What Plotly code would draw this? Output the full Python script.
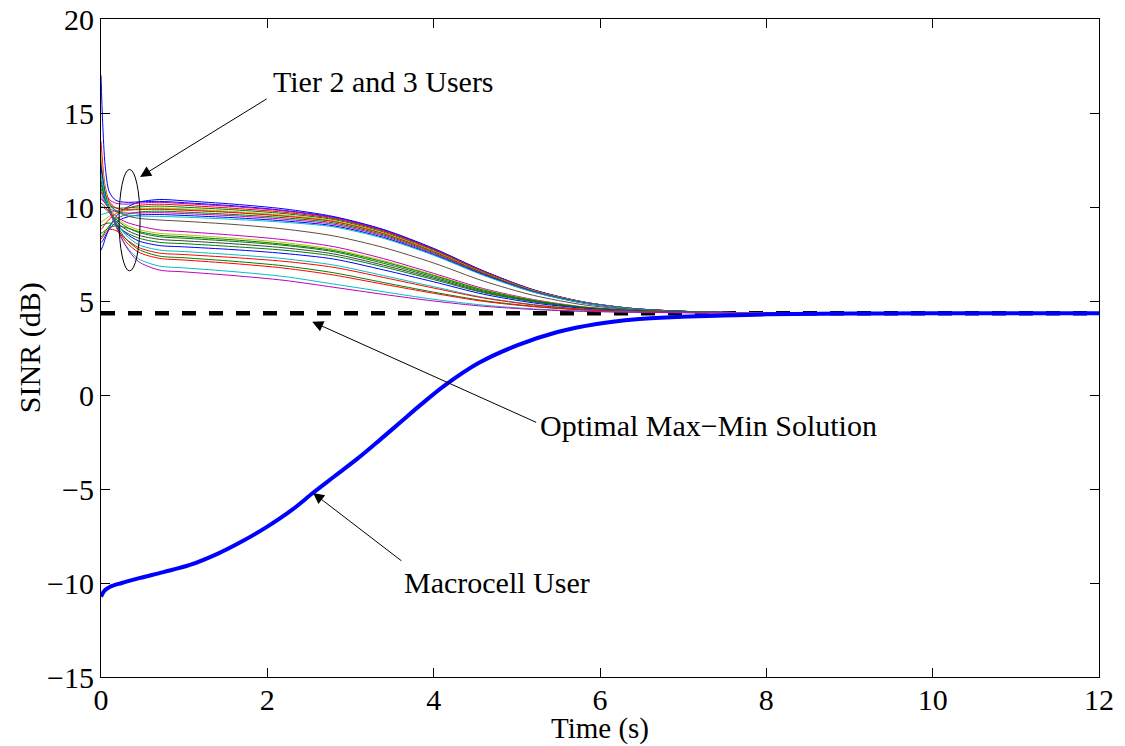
import plotly.graph_objects as go

# Sample times (s) for the tier 2/3 user SINR traces
t_tier = [0, 0.02, 0.05, 0.1, 0.18, 0.3, 0.45, 0.7, 1.0, 1.6, 2.2, 2.8,
          3.4, 4.0, 4.6, 5.2, 5.8, 6.4, 7.2, 8.5, 12]

# SINR (dB) of each tier 2/3 user
tier_01 = [7.7, 7.9, 8.3, 8.9, 9.5, 9.95, 10.25, 10.4, 10.33, 10.15, 9.9, 9.49, 8.80, 7.80, 6.60, 5.60, 4.95, 4.60, 4.42, 4.36, 4.35]
tier_02 = [17.0, 14.5, 12.2, 10.8, 10.35, 10.25, 10.27, 10.3, 10.23, 10.06, 9.82, 9.45, 8.77, 7.77, 6.59, 5.59, 4.95, 4.60, 4.42, 4.36, 4.35]
tier_03 = [12.5, 11.7, 10.9, 10.4, 10.2, 10.15, 10.2, 10.25, 10.18, 10.02, 9.79, 9.42, 8.74, 7.75, 6.57, 5.58, 4.94, 4.60, 4.42, 4.36, 4.35]
tier_04 = [8.8, 8.9, 9.1, 9.35, 9.65, 9.9, 10.08, 10.15, 10.09, 9.93, 9.72, 9.38, 8.71, 7.73, 6.55, 5.57, 4.94, 4.60, 4.42, 4.36, 4.35]
tier_05 = [11.0, 10.7, 10.35, 10.1, 9.95, 9.95, 10.0, 10.05, 9.99, 9.85, 9.65, 9.33, 8.66, 7.69, 6.53, 5.56, 4.93, 4.59, 4.42, 4.36, 4.35]
tier_06 = [9.6, 9.62, 9.66, 9.72, 9.8, 9.86, 9.9, 9.92, 9.87, 9.73, 9.54, 9.25, 8.59, 7.64, 6.49, 5.54, 4.93, 4.59, 4.42, 4.36, 4.35]
tier_07 = [9.2, 9.25, 9.35, 9.5, 9.65, 9.8, 9.9, 9.95, 9.90, 9.76, 9.57, 9.27, 8.61, 7.65, 6.50, 5.55, 4.93, 4.59, 4.42, 4.36, 4.35]
tier_08 = [13.5, 12.3, 11.1, 10.3, 9.95, 9.85, 9.86, 9.88, 9.83, 9.70, 9.51, 9.22, 8.57, 7.62, 6.48, 5.53, 4.92, 4.59, 4.42, 4.36, 4.35]
tier_09 = [8.4, 8.5, 8.7, 9.0, 9.35, 9.6, 9.73, 9.78, 9.73, 9.60, 9.43, 9.15, 8.51, 7.57, 6.45, 5.52, 4.91, 4.59, 4.42, 4.36, 4.35]
tier_10 = [10.5, 10.4, 10.2, 9.95, 9.75, 9.68, 9.68, 9.7, 9.65, 9.53, 9.35, 9.08, 8.45, 7.52, 6.42, 5.50, 4.90, 4.58, 4.42, 4.36, 4.35]
tier_11 = [8.1, 8.2, 8.45, 8.8, 9.2, 9.45, 9.57, 9.6, 9.55, 9.43, 9.26, 9.0, 8.38, 7.47, 6.39, 5.48, 4.89, 4.58, 4.42, 4.36, 4.35]
tier_12 = [11.7, 11.2, 10.6, 10.1, 9.8, 9.6, 9.52, 9.5, 9.46, 9.34, 9.19, 8.94, 8.33, 7.43, 6.36, 5.47, 4.89, 4.58, 4.41, 4.36, 4.35]
tier_13 = [12.0, 11.5, 10.8, 10.2, 9.8, 9.55, 9.4, 9.31, 9.24, 9.07, 8.83, 8.46, 7.84, 7.02, 6.06, 5.30, 4.80, 4.54, 4.41, 4.36, 4.35]
tier_14 = [10.8, 10.6, 10.3, 9.9, 9.5, 9.2, 9.0, 8.78, 8.69, 8.50, 8.26, 7.89, 7.25, 6.47, 5.66, 5.08, 4.69, 4.51, 4.40, 4.36, 4.35]
tier_15 = [12.8, 12.0, 11.0, 10.1, 9.45, 9.05, 8.8, 8.6, 8.52, 8.34, 8.11, 7.75, 7.14, 6.39, 5.61, 5.05, 4.68, 4.50, 4.40, 4.36, 4.35]
tier_16 = [8.6, 8.65, 8.75, 8.9, 9.0, 8.9, 8.7, 8.5, 8.42, 8.25, 8.02, 7.68, 7.08, 6.35, 5.58, 5.03, 4.67, 4.50, 4.40, 4.36, 4.35]
tier_17 = [10.2, 10.15, 10.0, 9.75, 9.35, 8.95, 8.65, 8.42, 8.34, 8.17, 7.96, 7.62, 7.00, 6.28, 5.53, 5.00, 4.66, 4.49, 4.40, 4.36, 4.35]
tier_18 = [11.4, 11.0, 10.4, 9.8, 9.25, 8.8, 8.5, 8.28, 8.20, 8.04, 7.83, 7.5, 6.90, 6.21, 5.48, 4.98, 4.65, 4.49, 4.39, 4.36, 4.35]
tier_19 = [9.0, 9.05, 9.1, 9.15, 9.0, 8.65, 8.35, 8.12, 8.05, 7.89, 7.70, 7.39, 6.81, 6.14, 5.44, 4.96, 4.64, 4.48, 4.39, 4.36, 4.35]
tier_20 = [12.2, 11.5, 10.7, 9.9, 9.15, 8.6, 8.2, 7.95, 7.88, 7.73, 7.53, 7.23, 6.65, 6.02, 5.36, 4.90, 4.61, 4.47, 4.39, 4.36, 4.35]
tier_21 = [10.6, 10.5, 10.3, 9.9, 9.2, 8.5, 8.0, 7.71, 7.63, 7.46, 7.25, 6.91, 6.35, 5.76, 5.19, 4.81, 4.57, 4.45, 4.39, 4.36, 4.35]
tier_22 = [8.3, 8.4, 8.6, 8.8, 8.75, 8.3, 7.85, 7.55, 7.47, 7.31, 7.11, 6.79, 6.25, 5.69, 5.16, 4.79, 4.56, 4.45, 4.38, 4.36, 4.35]
tier_23 = [11.2, 10.9, 10.5, 9.95, 9.1, 8.3, 7.75, 7.39, 7.30, 7.11, 6.87, 6.5, 5.98, 5.47, 5.02, 4.72, 4.53, 4.43, 4.38, 4.36, 4.35]
tier_24 = [10.0, 10.0, 9.9, 9.7, 9.0, 8.15, 7.6, 7.27, 7.18, 6.99, 6.75, 6.38, 5.89, 5.41, 4.98, 4.70, 4.52, 4.43, 4.38, 4.36, 4.35]
tier_25 = [11.8, 11.3, 10.6, 9.9, 8.95, 7.95, 7.25, 6.86, 6.76, 6.56, 6.30, 5.9, 5.49, 5.09, 4.78, 4.58, 4.46, 4.41, 4.37, 4.36, 4.35]
tier_26 = [10.4, 10.35, 10.2, 9.85, 9.0, 7.9, 7.1, 6.65, 6.55, 6.35, 6.1, 5.73, 5.35, 5.0, 4.72, 4.55, 4.45, 4.4, 4.37, 4.36, 4.35]

tier_users = [tier_01, tier_02, tier_03, tier_04, tier_05, tier_06, tier_07,
              tier_08, tier_09, tier_10, tier_11, tier_12, tier_13, tier_14,
              tier_15, tier_16, tier_17, tier_18, tier_19, tier_20, tier_21,
              tier_22, tier_23, tier_24, tier_25, tier_26]

tier_colors = ['#0000ff', '#0000ff', '#bf00bf', '#ff0000', '#008000', '#00bfbf',
               '#bfbf00', '#ff0000', '#008000', '#bf00bf', '#0000ff', '#00bfbf',
               '#604c3c', '#bf00bf', '#bfbf00', '#008000', '#008000', '#404040',
               '#008000', '#0000ff', '#00bfbf', '#ff0000', '#008000', '#ff0000',
               '#00bfbf', '#bf00bf']

# Macrocell user SINR (dB)
t_macro = [0, 0.02, 0.05, 0.11, 0.25, 0.47, 0.75, 1.07, 1.4, 1.67, 2.0, 2.3,
           2.55, 2.8, 3.08, 3.35, 3.6, 3.85, 4.13, 4.54, 5.01, 5.49, 5.96, 6.44,
           6.92, 7.4, 8.0, 9.0, 10.0, 12.0]
sinr_macro = [-10.73, -10.55, -10.37, -10.2, -10.0, -9.73, -9.42, -9.04, -8.45,
              -7.85, -7.0, -6.1, -5.2, -4.35, -3.4, -2.4, -1.45, -0.5, 0.5,
              1.7, 2.65, 3.35, 3.78, 4.03, 4.15, 4.22, 4.29, 4.33, 4.35, 4.35]

# Optimal max-min SINR level (dB)
t_opt = [0, 12]
sinr_opt = [4.35, 4.35]

FONT = "Liberation Serif, Times New Roman, serif"
FS = 30

fig = go.Figure()

fig.add_trace(go.Scatter(
    x=t_opt, y=sinr_opt, mode="lines",
    line=dict(color="black", width=4.5, dash="14px,13px"),
    hoverinfo="skip"))

for vals, col in zip(tier_users, tier_colors):
    fig.add_trace(go.Scatter(
        x=t_tier, y=vals, mode="lines",
        line=dict(color=col, width=1, shape="spline", smoothing=0.8)))

fig.add_trace(go.Scatter(
    x=t_macro, y=sinr_macro, mode="lines",
    line=dict(color="#0000ff", width=4, shape="spline", smoothing=1.0)))

# Ellipse around the tier 2/3 transient
fig.add_shape(type="circle", xref="x", yref="y",
              x0=0.217, x1=0.47, y0=6.6, y1=12.0,
              line=dict(color="black", width=1))

arrow_style = dict(showarrow=True, arrowhead=2, arrowsize=2.2, arrowwidth=1,
                   arrowcolor="black", axref="x", ayref="y", text="")

fig.add_annotation(x=0.47, y=11.6, ax=2.01, ay=15.8, **arrow_style)
fig.add_annotation(x=2.54, y=3.9, ax=5.25, ay=-1.49, **arrow_style)
fig.add_annotation(x=2.55, y=-5.21, ax=3.63, ay=-8.88, **arrow_style)

label_style = dict(showarrow=False, xanchor="left", yanchor="middle",
                   font=dict(family=FONT, size=FS, color="black"))
fig.add_annotation(x=2.04, y=16.65, text="Tier 2 and 3 Users", **label_style)
fig.add_annotation(x=5.26, y=-1.6, text="Optimal Max\u2212Min Solution", **label_style)
fig.add_annotation(x=3.62, y=-9.95, text="Macrocell User", **label_style)

# Axis titles placed in paper coordinates below / left of the frame
title_font = dict(family=FONT, size=29, color="black")
fig.add_annotation(text="Time (s)", xref="paper", yref="paper", x=0.5, y=-0.079,
                   xanchor="center", yanchor="middle", showarrow=False,
                   borderpad=0, font=title_font)
fig.add_annotation(text="SINR (dB)", xref="paper", yref="paper", x=-0.071, y=0.5,
                   xanchor="center", yanchor="middle", showarrow=False,
                   textangle=-90, font=dict(family=FONT, size=FS, color="black"))

axis_common = dict(showline=True, linecolor="black", linewidth=1, mirror="ticks",
                   ticks="inside", ticklen=9, tickcolor="black", tickwidth=1,
                   showgrid=False, zeroline=False, automargin=False,
                   tickfont=dict(family=FONT, size=FS, color="black"))

fig.update_xaxes(range=[0, 12], tickvals=[0, 2, 4, 6, 8, 10, 12],
                 ticklabelstandoff=-4, **axis_common)
fig.update_yaxes(range=[-15, 20], tickvals=[-15, -10, -5, 0, 5, 10, 15, 20],
                 **axis_common)

fig.update_layout(width=1125, height=746, showlegend=False,
                  margin=dict(l=101, r=26, t=19, b=69),
                  plot_bgcolor="white", paper_bgcolor="white")

fig.write_html("out.html")
